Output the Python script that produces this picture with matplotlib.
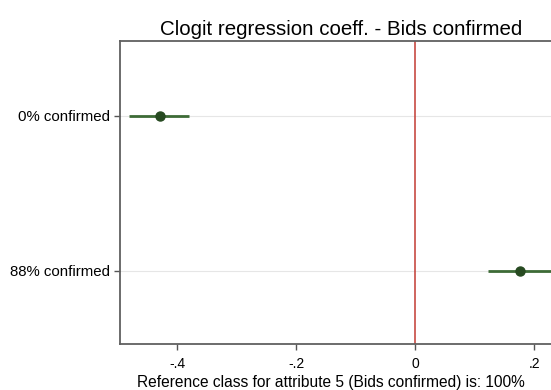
import numpy as np
import matplotlib
matplotlib.use("Agg")
import matplotlib.pyplot as plt

plt.rcParams['font.family'] = ['Liberation Sans', 'DejaVu Sans']

# coefficient estimates
categorias = ['0% confirmed', '88% confirmed']
coef = [-0.430, 0.176]
ic_inf = [-0.481, 0.122]
ic_sup = [-0.380, 0.230]
xticks = [-0.4, -0.2, 0, 0.2]
xtick_labels = ['-.4', '-.2', '0', '.2']

fig = plt.figure(figsize=(5.51, 3.90), dpi=100)
ax = fig.add_axes([0.2178, 0.1179, 0.882, 0.777])

posicoes = np.arange(1, len(categorias) + 1)

for y in posicoes:
    ax.axhline(y, color='#e6e6e6', lw=0.8, zorder=1)

ax.axvline(0, color='#c23b33', lw=1.1, zorder=2)

ax.hlines(posicoes, ic_inf, ic_sup, color='#3d6b36', lw=2.0, zorder=3)
ax.plot(coef, posicoes, 'o', color='#274a21', markersize=6.5, zorder=4)

ax.set_xlim(-0.4965, 0.3203)
ax.set_ylim(2.473, 0.518)

ax.set_yticks(posicoes)
ax.set_yticklabels(categorias, fontsize=10.8)
ax.set_xticks(xticks)
ax.set_xticklabels(xtick_labels, fontsize=10)
ax.tick_params(axis='both', direction='out', length=4, width=1, color='#555555')
ax.tick_params(axis='x', pad=5)

for lado in ['left', 'bottom', 'top', 'right']:
    ax.spines[lado].set_color('#606060')
    ax.spines[lado].set_linewidth(1.3)

# rótulo do eixo x centrado na parte visível
fig.text(0.601, 0.0077, 'Reference class for attribute 5 (Bids confirmed) is: 100%',
         fontsize=11.2, ha='center', va='baseline')
fig.text(0.6185, 0.910, 'Clogit regression coeff. - Bids confirmed', fontsize=14.8,
         ha='center', va='baseline')

fig.savefig('out.png', dpi=100)
